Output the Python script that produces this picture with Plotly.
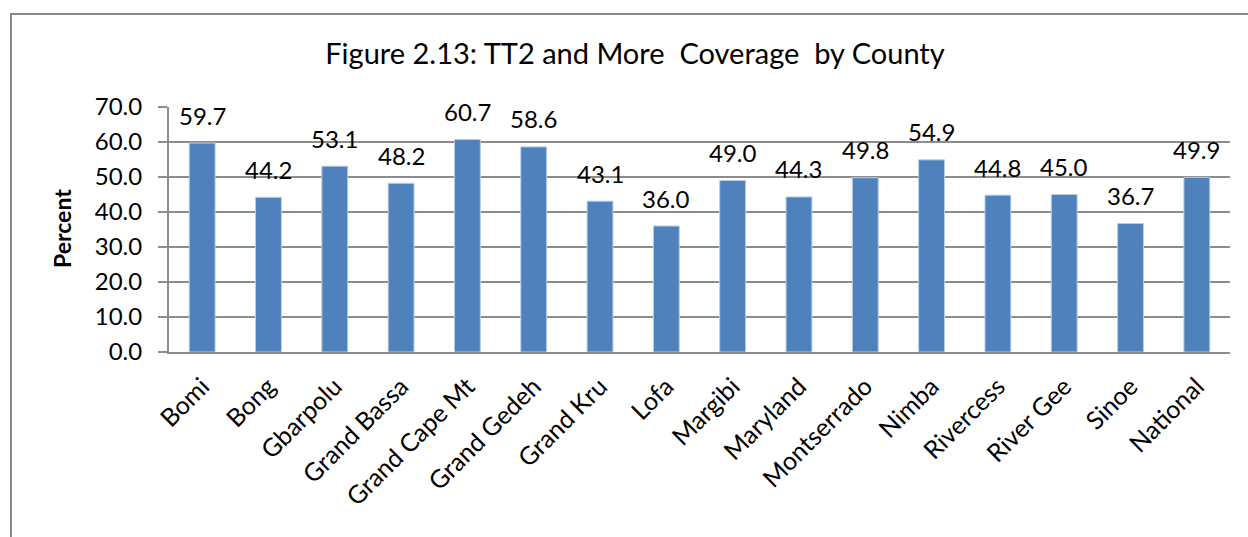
import plotly.graph_objects as go

counties = ["Bomi", "Bong", "Gbarpolu", "Grand Bassa", "Grand Cape Mt", "Grand Gedeh",
            "Grand Kru", "Lofa", "Margibi", "Maryland", "Montserrado", "Nimba",
            "Rivercess", "River Gee", "Sinoe", "National"]
coverage = [59.7, 44.2, 53.1, 48.2, 60.7, 58.6, 43.1, 36.0, 49.0, 44.3, 49.8, 54.9,
            44.8, 45.0, 36.7, 49.9]
y_ticks = [0, 10, 20, 30, 40, 50, 60, 70]

FONT = "Lato"
GRID = "#8c8c8c"

W, H = 1248, 537
L, R, T, B = 169, 18, 107, 185
pw, ph = W - L - R, H - T - B

fig = go.Figure()
fig.add_trace(go.Bar(
    x=counties, y=coverage, width=0.39,
    marker=dict(color="#4F81BD", line=dict(color="#B9CDE5", width=1)),
    hoverinfo="x+y", showlegend=False,
))

# value labels above each bar
for c, v in zip(counties, coverage):
    fig.add_annotation(x=c, y=v, text=f"{v:.1f}", showarrow=False,
                       yanchor="middle", yshift=28,
                       font=dict(family=FONT, size=24, color="#000"))

# outer chart frame (extends past the right and bottom edges)
def px_x(p):
    return (p - L) / pw

def px_y(p):
    return (H - B - p) / ph

fig.add_shape(type="rect", xref="paper", yref="paper",
              x0=px_x(11), x1=px_x(1270), y0=px_y(560), y1=px_y(14),
              line=dict(color="#888888", width=2), fillcolor="rgba(0,0,0,0)")

# rotated axis title
fig.add_annotation(xref="paper", yref="paper", x=px_x(62), y=px_y(229),
                   text="<b>Percent</b>", textangle=-90, showarrow=False,
                   xanchor="center", yanchor="middle",
                   font=dict(family=FONT, size=23, color="#000"))

fig.update_layout(
    width=W, height=H,
    margin=dict(l=L, r=R, t=T, b=B, autoexpand=False),
    paper_bgcolor="white", plot_bgcolor="white",
    title=dict(text="Figure 2.13: TT2 and More  Coverage  by County",
               x=635 / W, xanchor="center", xref="container",
               y=1 - 54 / H, yanchor="middle", yref="container",
               font=dict(family=FONT, size=29, color="#000")),
    xaxis=dict(
        tickangle=-45, showgrid=False, ticks="",
        showline=True, linecolor=GRID, linewidth=2,
        ticklabelstandoff=8,
        tickfont=dict(family=FONT, size=25, color="#000"),
    ),
    yaxis=dict(
        range=[0, 70], tickvals=y_ticks, ticktext=[f"{t:.1f}" for t in y_ticks],
        showgrid=True, gridcolor=GRID, gridwidth=1.5,
        showline=True, linecolor=GRID, linewidth=2,
        ticks="outside", ticklen=9, tickcolor=GRID, tickwidth=1.5,
        ticklabelstandoff=11,
        tickfont=dict(family=FONT, size=24, color="#000"),
        zeroline=False,
    ),
)

fig.write_html("out.html")
